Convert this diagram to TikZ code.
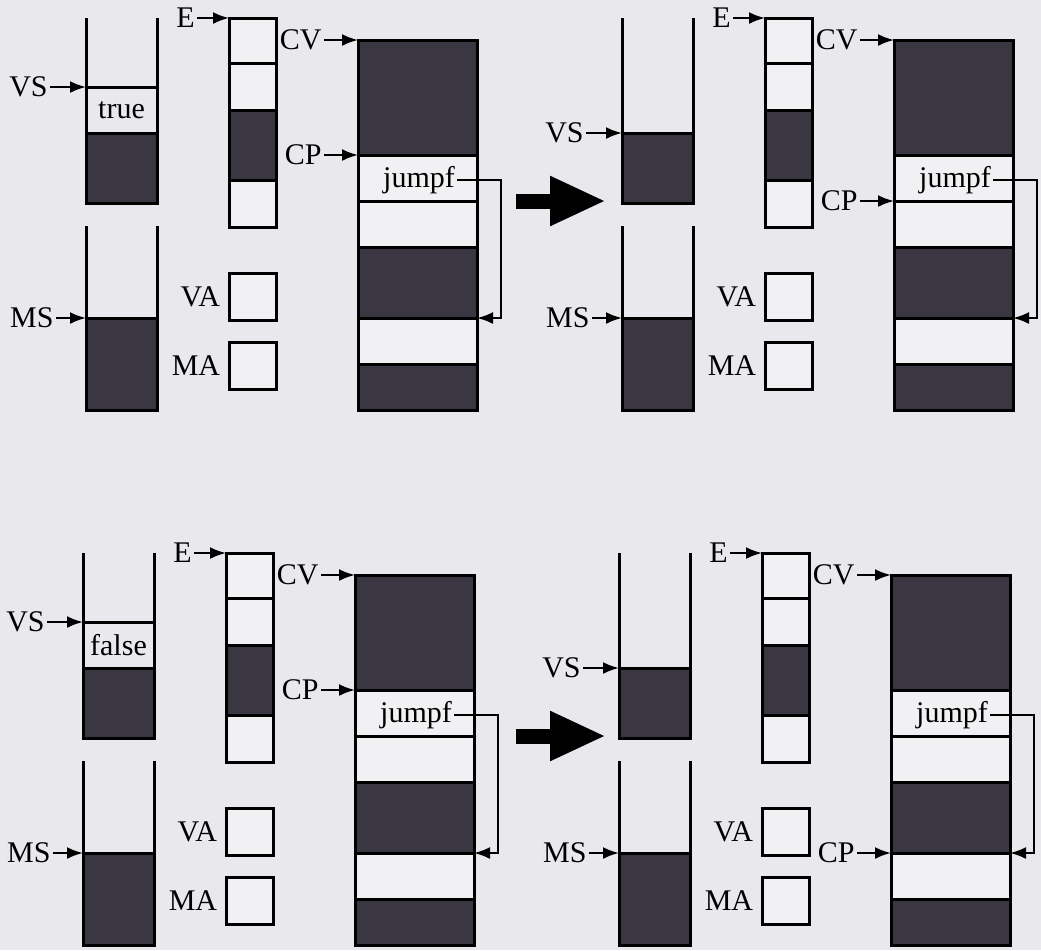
\documentclass[tikz,border=0pt]{standalone}
\usepackage{fontspec}
\setmainfont{Liberation Serif}
\usetikzlibrary{arrows.meta,positioning}
\definecolor{paper}{RGB}{233,233,237}
\definecolor{cellfill}{RGB}{241,241,244}
\definecolor{darkcell}{RGB}{58,55,66}

% one machine state: #1 name prefix, #2 offset
\newcommand{\machine}[2]{%
\begin{scope}[shift={#2}]
  % value stack and mark stack
  \fill[darkcell] (86,133) rectangle (157,203);
  \fill[darkcell] (86,318) rectangle (157,410);
  \draw[wall] (86,18) |- (157,203) -- (157,18);
  \draw[wall] (86,226) |- (157,410) -- (157,226);
  \draw[wall] (86,133) -- (157,133);
  \draw[wall] (86,318) -- (157,318);
  % environment
  \fill[cellfill] (229,18) rectangle (276,227);
  \fill[darkcell] (229,110) rectangle (276,180);
  \draw[wall] (229,18) rectangle (276,227);
  \foreach \y in {63,110,180} \draw[wall] (229,\y) -- (276,\y);
  % registers
  \node[reg] (#1-va) at (252.5,296.5) {};
  \node[reg] (#1-ma) at (252.5,365.5) {};
  \node[lbl, left=2.5pt of #1-va] (#1-VA) {VA};
  \node[lbl, left=2.5pt of #1-ma] (#1-MA) {MA};
  % code vector
  \fill[cellfill] (358,40) rectangle (477,410);
  \foreach \a/\b in {40/155,247/318,364/410} \fill[darkcell] (358,\a) rectangle (477,\b);
  \draw[wall] (358,40) rectangle (477,410);
  \foreach \y in {155,201,247,318,364} \draw[wall] (358,\y) -- (477,\y);
  \node[lbl] (#1-jmp) at (419,180) {jumpf};
  \coordinate (#1-bend) at (501,318);
  \coordinate (#1-dest) at (477,318);
  \draw[ptr] (#1-jmp.east) -| (#1-bend) -- (#1-dest);
  % pointer targets
  \coordinate (#1-e) at (229,18);
  \coordinate (#1-cv) at (358,40);
  \coordinate (#1-ms) at (86,318);
  \coordinate (#1-vs1) at (86,87);
  \coordinate (#1-vs1r) at (157,87);
  \coordinate (#1-vs2) at (86,133);
  \coordinate (#1-top) at (121.5,110);
  \coordinate (#1-cp1) at (358,155);
  \coordinate (#1-cp2) at (358,201);
  \coordinate (#1-cp3) at (358,318);
  \node[lbl, left=16pt of #1-e] (#1-E) {E};
  \node[lbl, left=17pt of #1-cv] (#1-CV) {CV};
  \node[lbl, left=15pt of #1-ms] (#1-MS) {MS};
  \draw[ptr] (#1-E) -- (#1-e);
  \draw[ptr] (#1-CV) -- (#1-cv);
  \draw[ptr] (#1-MS) -- (#1-ms);
\end{scope}}

\begin{document}
\begin{tikzpicture}[
  x=0.5pt, y=-0.5pt,
  wall/.style={line width=1.5pt},
  lbl/.style={inner sep=1pt, font=\fontsize{15}{17}\selectfont},
  reg/.style={draw, line width=1.5pt, fill=cellfill, minimum width=23.5pt, minimum height=23.5pt, inner sep=0pt},
  ptr/.style={line width=1.1pt, -{Latex[length=8pt,width=6pt]}},
  bigarrow/.style={line width=7.5pt, -{Triangle[length=28pt,width=23pt]}}
]
\fill[paper] (0,0) rectangle (1041,950);
\useasboundingbox (0,0) rectangle (1041,950);

% before: true on top
\machine{a}{(0,0)}
\draw[wall] (a-vs1) -- (a-vs1r);
\node[lbl] (a-val) at (a-top) {true};
\node[lbl, left=18pt of a-vs1] (a-VS) {VS};
\node[lbl, left=17pt of a-cp1] (a-CP) {CP};
\draw[ptr] (a-VS) -- (a-vs1);
\draw[ptr] (a-CP) -- (a-cp1);

% after: fall through
\machine{b}{(536,0)}
\node[lbl, left=18pt of b-vs2] (b-VS) {VS};
\node[lbl, left=17pt of b-cp2] (b-CP) {CP};
\draw[ptr] (b-VS) -- (b-vs2);
\draw[ptr] (b-CP) -- (b-cp2);

% before: false on top
\machine{c}{(-3,535)}
\draw[wall] (c-vs1) -- (c-vs1r);
\node[lbl] (c-val) at (c-top) {false};
\node[lbl, left=18pt of c-vs1] (c-VS) {VS};
\node[lbl, left=17pt of c-cp1] (c-CP) {CP};
\draw[ptr] (c-VS) -- (c-vs1);
\draw[ptr] (c-CP) -- (c-cp1);

% after: jump taken
\machine{d}{(533,535)}
\node[lbl, left=18pt of d-vs2] (d-VS) {VS};
\node[lbl, left=17pt of d-cp3] (d-CP) {CP};
\draw[ptr] (d-VS) -- (d-vs2);
\draw[ptr] (d-CP) -- (d-cp3);

% transitions
\coordinate (go1) at (516,201);
\coordinate (to1) at (606,201);
\coordinate (go2) at (516,736);
\coordinate (to2) at (606,736);
\draw[bigarrow] (go1) -- (to1);
\draw[bigarrow] (go2) -- (to2);
\end{tikzpicture}
\end{document}
